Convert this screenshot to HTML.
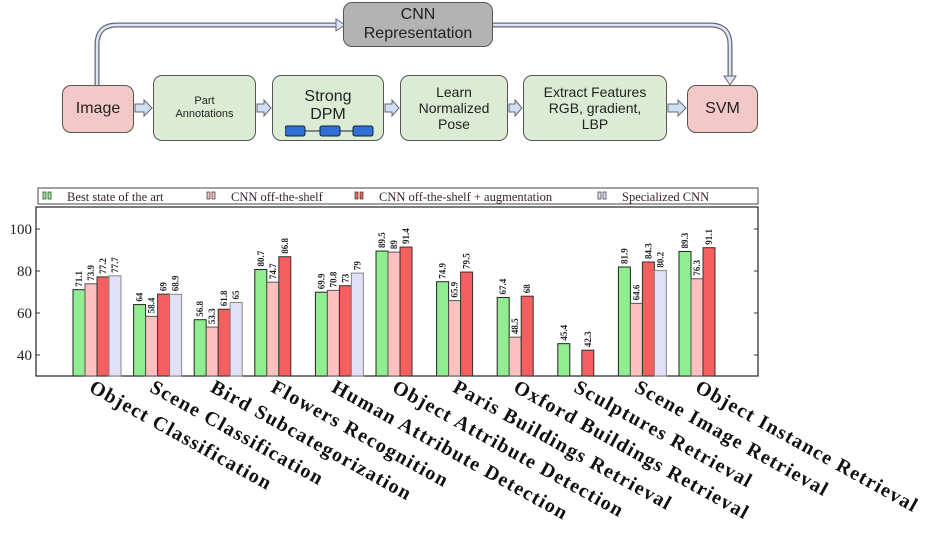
<!DOCTYPE html>
<html><head><meta charset="utf-8"><style>
body{margin:0;background:#fff;width:935px;height:537px;overflow:hidden;font-family:"Liberation Sans",sans-serif}
.box{position:absolute;border:1.5px solid #555;border-radius:9px;display:flex;align-items:center;justify-content:center;text-align:center;color:#222;box-sizing:border-box;line-height:1.15}
.g{background:#dcecd4}.p{background:#f2c9c7}
</style></head><body>
<svg width="935" height="170" style="position:absolute;left:0;top:0">
 <path d="M97 85 V45 Q97 25 117 25 H338" fill="none" stroke="#667" stroke-width="5"/>
 <path d="M97 85 V45 Q97 25 117 25 H338" fill="none" stroke="#dde6f2" stroke-width="2.5"/>
 <path d="M493 25 H710 Q730 25 730 45 V78" fill="none" stroke="#667" stroke-width="5"/>
 <path d="M493 25 H710 Q730 25 730 45 V78" fill="none" stroke="#dde6f2" stroke-width="2.5"/>
 <polygon points="336,19 345,25 336,31" fill="#dde6f2" stroke="#667"/>
 <polygon points="724,76 736,76 730,85" fill="#dde6f2" stroke="#667"/>
 <g fill="#cfe0f2" stroke="#667">
  <polygon points="135,104 144,104 144,100 152,108 144,116 144,112 135,112"/>
  <polygon points="257,104 264,104 264,100 271,108 264,116 264,112 257,112"/>
  <polygon points="385,104 392,104 392,100 399,108 392,116 392,112 385,112"/>
  <polygon points="509,104 515,104 515,100 522,108 515,116 515,112 509,112"/>
  <polygon points="668,104 678,104 678,100 686,108 678,116 678,112 668,112"/>
 </g>
</svg>
<div class="box" style="left:343px;top:2px;width:150px;height:45px;background:#b3b3b3;font-size:16px">CNN<br>Representation</div>
<div class="box p" style="left:62px;top:85px;width:72px;height:48px;font-size:16px">Image</div>
<div class="box g" style="left:153px;top:75px;width:103px;height:66px;font-size:11px">Part<br>Annotations</div>
<div class="box g" style="left:272px;top:75px;width:112px;height:66px;font-size:16px;align-items:flex-start;padding-top:12px">Strong<br>DPM
 <svg style="position:absolute;left:12px;top:49px" width="90" height="12"><rect x="0" y="1" width="20" height="10" rx="2" fill="#2f6fd8" stroke="#123"/><rect x="35" y="1" width="20" height="10" rx="2" fill="#2f6fd8" stroke="#123"/><rect x="68" y="1" width="20" height="10" rx="2" fill="#2f6fd8" stroke="#123"/><line x1="20" y1="6" x2="35" y2="6" stroke="#123"/><line x1="55" y1="6" x2="68" y2="6" stroke="#123"/></svg></div>
<div class="box g" style="left:400px;top:75px;width:108px;height:66px;font-size:14px">Learn<br>Normalized<br>Pose</div>
<div class="box g" style="left:523px;top:75px;width:144px;height:66px;font-size:14px">Extract Features<br>RGB, gradient,<br>LBP</div>
<div class="box p" style="left:687px;top:85px;width:71px;height:48px;font-size:16px">SVM</div>
<svg id="chart" width="935" height="537" style="position:absolute;left:0;top:0" font-family="Liberation Serif, serif"></svg>
<script>
const categories=["Object Classification","Scene Classification","Bird Subcategorization","Flowers Recognition","Human Attribute Detection","Object Attribute Detection","Paris Buildings Retrieval","Oxford Buildings Retrieval","Sculptures Retrieval","Scene Image Retrieval","Object Instance Retrieval"];
const bestSOTA=[71.1,64,56.8,80.7,69.9,89.5,74.9,67.4,45.4,81.9,89.3];
const cnnOTS=[73.9,58.4,53.3,74.7,70.8,89,65.9,48.5,null,64.6,76.3];
const cnnAug=[77.2,69,61.8,86.8,73,91.4,79.5,68,42.3,84.3,91.1];
const specialized=[77.7,68.9,65,null,79,null,null,null,null,80.2,null];
const yTicks=[40,60,80,100];
const seriesNames=["Best state of the art","CNN off-the-shelf","CNN off-the-shelf + augmentation","Specialized CNN"];
const NS="http://www.w3.org/2000/svg",svg=document.getElementById('chart');
function el(t,a,p){const e=document.createElementNS(NS,t);for(const k in a)e.setAttribute(k,a[k]);(p||svg).appendChild(e);return e;}
const L=36,R=758,T=207,B=376;
const y=v=>B-(v-30)*2.1;
const gx=i=>97+i*60.6;
const series=[bestSOTA,cnnOTS,cnnAug,specialized];
const fills=["#90ee90","#ffc0c0","#f55f5f","#e0e0f8"];
const strokes=["#222","#555","#333","#888"];
el('rect',{x:L,y:T,width:R-L,height:B-T,fill:'none',stroke:'#222','stroke-width':1.2});
yTicks.forEach(v=>{el('line',{x1:L,x2:L+4,y1:y(v),y2:y(v),stroke:'#333'});el('line',{x1:R-4,x2:R,y1:y(v),y2:y(v),stroke:'#333'});
 const t=el('text',{x:L-4,y:y(v)+5,'text-anchor':'end','font-size':15,fill:'#222'});t.textContent=v;
 });
const bw=12;
categories.forEach((c,i)=>{
 series.forEach((s,j)=>{const v=s[i];if(v==null)return;const x=gx(i)-24+j*bw;
  const r=el('rect',{x:x,y:y(v),width:bw,height:B-y(v),fill:fills[j],stroke:strokes[j],'stroke-width':1});
  
  const t=el('text',{transform:`translate(${x+bw/2+3},${y(v)-3}) rotate(-90)`,'font-size':9,'font-weight':'bold',fill:'#222'});t.textContent=v;
  });
 const t=el('text',{transform:`translate(${gx(i)-9},${B+15}) rotate(29)`,'font-size':20,'font-weight':'bold','letter-spacing':'1.3',fill:'#111'});t.textContent=c;
 
});
const lg=el('g',{});
el('rect',{x:38,y:188,width:720,height:16,fill:'#fff',stroke:'#444'},lg);
const lx=[43,207,355,598];
seriesNames.forEach((n,j)=>{el('rect',{x:lx[j],y:192,width:3,height:7,fill:fills[j],stroke:'#333','stroke-width':0.7},lg);el('rect',{x:lx[j]+5,y:192,width:3,height:7,fill:fills[j],stroke:'#333','stroke-width':0.7},lg);
 const t=el('text',{x:lx[j]+24,y:201,'font-size':12.5,fill:'#3a2030'},lg);t.textContent=n;
 });
</script>
</body></html>
